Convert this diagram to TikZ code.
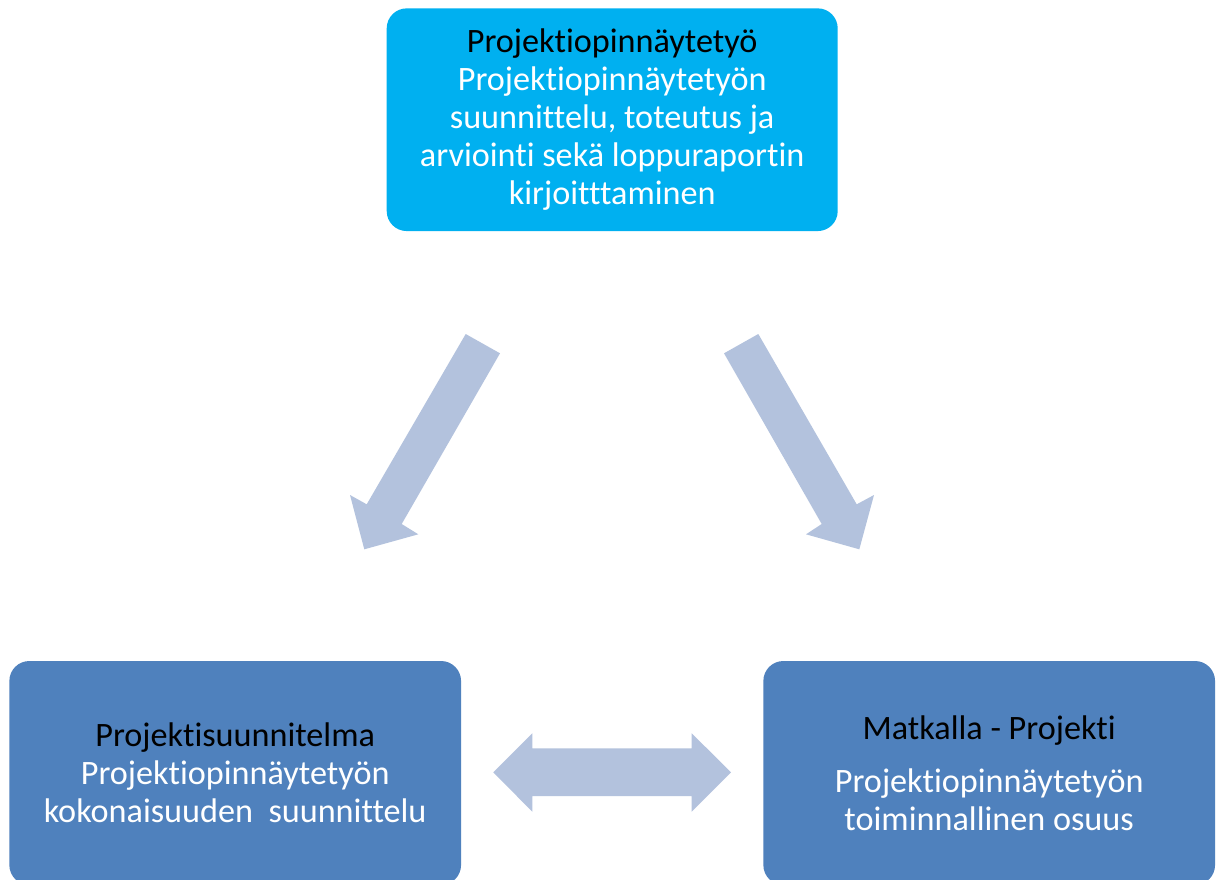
\documentclass[tikz,border=0pt]{standalone}
\usepackage{fontspec}
\setmainfont{Carlito}[RawFeature={-liga;-clig;-dlig}]
\definecolor{topfill}{HTML}{00B0F0}
\definecolor{boxfill}{HTML}{4F81BD}
\definecolor{arrowfill}{HTML}{B3C2DD}
\begin{document}
\begin{tikzpicture}[x=1pt,y=-1pt,
  box/.style={rounded corners=20pt, inner sep=0pt, align=center, text=white,
    font=\fontsize{34.2}{38}\selectfont},
  blockarrow/.style={fill=arrowfill}]
\useasboundingbox (0,0) rectangle (1217,879);
\clip (0,0) rectangle (1217,879);
\fill[white] (0,0) rectangle (1217,879);
\node[box, fill=topfill, minimum width=451pt, minimum height=222.7pt] (top) at (612.2,119.7)
  {{\color{black}Projektiopinnäytetyö}\\Projektiopinnäytetyön\\suunnittelu, toteutus ja\\arviointi sekä loppuraportin\\kirjoitttaminen};
\node[box, fill=boxfill, minimum width=451.7pt, minimum height=224pt] (plan) at (235.2,773)
  {{\color{black}Projektisuunnitelma}\\Projektiopinnäytetyön\\kokonaisuuden\ \ suunnittelu};
\node[box, fill=boxfill, minimum width=451.7pt, minimum height=224pt] (trip) at (989.2,773)
  {{\color{black}Matkalla - Projekti}\\[15pt]Projektiopinnäytetyön\\toiminnallinen osuus};
\fill[blockarrow] (465.7,334) -- (500,353.3) -- (401.7,524) -- (418.3,534.3) -- (364.3,549.3) -- (350,495) -- (366.7,504.3) -- cycle;
\fill[blockarrow] (758.3,334) -- (724,353.3) -- (821.7,524) -- (806,534.3) -- (859.3,549.3) -- (874,495) -- (856.7,504.3) -- cycle;
\fill[blockarrow] (493.3,772.3) -- (532.3,733.3) -- (532.3,748.3) -- (691.7,748.3) -- (691.7,733.3) -- (731,772.3) -- (691.7,811.7) -- (691.7,796) -- (532.3,796) -- (532.3,811.7) -- cycle;
\end{tikzpicture}
\end{document}
